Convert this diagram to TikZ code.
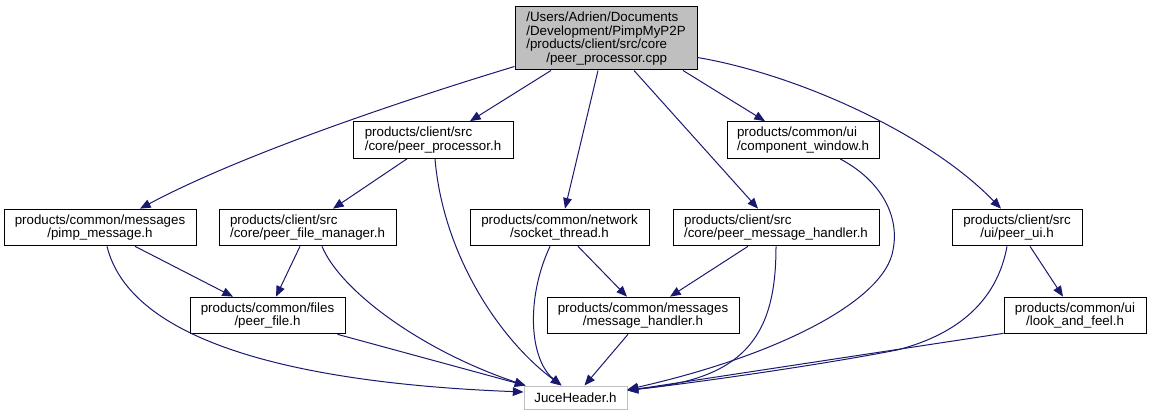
\documentclass[tikz,border=0pt]{standalone}
\usepackage{fontspec}
\setmainfont{Liberation Sans}
\usetikzlibrary{arrows.meta,calc}
\definecolor{edgeblue}{HTML}{191970}
\definecolor{nodegray}{HTML}{BFBFBF}
\begin{document}
\begin{tikzpicture}[x=0.75pt,y=-0.75pt,
  box/.style={draw=black, fill=white, line width=0.75pt, inner sep=0pt, minimum height=27.5pt, font=\fontsize{10}{10.2}\selectfont},
  edge/.style={draw=edgeblue, line width=0.75pt, -{Triangle[length=8pt,width=6.5pt]}}]
\useasboundingbox (0,0) rectangle (1152,416);
% nodes
\node[box, fill=nodegray, minimum width=136.5pt, minimum height=47.25pt, align=left] (top) at (606,38.5)
  {/Users/Adrien/Documents\\/Development/PimpMyP2P\\/products/client/src/core\\\hspace*{15pt}/peer\_processor.cpp};
\node[box, minimum width=120pt, align=left] (pph) at (433,140) {products/client/src\\/core/peer\_processor.h};
\node[box, minimum width=114pt, align=left] (cw) at (803,140) {products/common/ui\\/component\_window.h};
\node[box, minimum width=144pt, align=center] (pm) at (100,227.5) {products/common/messages\\/pimp\_message.h};
\node[box, minimum width=132.75pt, align=left] (pfm) at (307.5,227.5) {products/client/src\\/core/peer\_file\_manager.h};
\node[box, minimum width=134.25pt, align=center] (st) at (559.5,227.5) {products/common/network\\/socket\_thread.h};
\node[box, minimum width=154.5pt, align=left] (pmh) at (776,227.5) {products/client/src\\/core/peer\_message\_handler.h};
\node[box, minimum width=97.5pt, align=center] (pui) at (1017,227.5) {products/client/src\\/ui/peer\_ui.h};
\node[box, minimum width=116.25pt, align=center] (pf) at (267.5,315.5) {products/common/files\\/peer\_file.h};
\node[box, minimum width=144pt, align=center] (mh) at (643,315.5) {products/common/messages\\/message\_handler.h};
\node[box, minimum width=106.5pt, align=center] (lf) at (1075,315.5) {products/common/ui\\/look\_and\_feel.h};
\node[box, draw=nodegray, minimum width=77.25pt, minimum height=17.25pt] (jh) at (575.5,397.5) {JuceHeader.h};
% edges from top
\draw[edge] ($(top.south west)+(0,-4)$) .. controls (430,92) and (250,150) .. ($(pm.north)+(40,0)$);
\draw[edge] ($(top.south)+(-55,0)$) -- ($(pph.north)+(37,0)$);
\draw[edge] ($(top.south)+(-8,0)$) -- ($(st.north)+(5.5,0)$);
\draw[edge] ($(top.south)+(28,0)$) -- ($(pmh.north)+(-18,0)$);
\draw[edge] ($(top.south)+(77,0)$) -- ($(cw.north)+(-38,0)$);
\draw[edge] ($(top.south east)+(0,-13)$) .. controls (800,75) and (930,135) .. ($(pui.north)+(-16,0)$);
% peer_processor.h
\draw[edge] ($(pph.south)+(-26,0)$) -- ($(pfm.north)+(25.5,0)$);
\draw[edge] ($(pph.south)+(2,0)$) .. controls (443,255) and (500,340) .. ($(jh.north)+(-14,0)$);
% component_window.h
\draw[edge] ($(cw.south)+(37,0)$) .. controls (880,180) and (900,215) .. (893,250)
  .. controls (885,300) and (780,355) .. ($(jh.east)+(0,-8)$);
% pimp_message.h
\draw[edge] ($(pm.south)+(35,0)$) -- ($(pf.north)+(-34.5,0)$);
\draw[edge] ($(pm.south)+(7,0)$) .. controls (130,340) and (290,383) .. ($(jh.west)+(0,-5.5)$);
% peer_file_manager.h
\draw[edge] ($(pfm.south)+(-7.5,0)$) -- ($(pf.north)+(8.5,0)$);
\draw[edge] ($(pfm.south)+(14.5,0)$) .. controls (340,290) and (420,350) .. ($(jh.north west)+(2,0)$);
% socket_thread.h
\draw[edge] ($(st.south)+(-9.5,0)$) .. controls (525,300) and (530,360) .. ($(jh.north)+(-14,0)$);
\draw[edge] ($(st.south)+(18.5,0)$) -- ($(mh.north)+(-16,0)$);
% peer_message_handler.h
\draw[edge] ($(pmh.south)+(-28,0)$) -- ($(mh.north)+(27,0)$);
\draw[edge] (pmh.south) .. controls (776,330) and (750,380) .. ($(jh.east)+(0,-8)$);
% peer_ui.h
\draw[edge] ($(pui.south)+(-10,0)$) .. controls (1000,285) and (975,330) .. (897,350)
  .. controls (820,365) and (700,382) .. ($(jh.east)+(0,-7)$);
\draw[edge] ($(pui.south)+(13,0)$) -- ($(lf.north)+(-12,0)$);
% lower row
\draw[edge] ($(pf.south east)+(-8,0)$) -- ($(jh.north west)+(2,0)$);
\draw[edge] ($(mh.south)+(-15,0)$) -- ($(jh.north)+(9,0)$);
\draw[edge] ($(lf.south west)+(0,-1)$) -- ($(jh.east)+(0,-7)$);
\end{tikzpicture}
\end{document}
